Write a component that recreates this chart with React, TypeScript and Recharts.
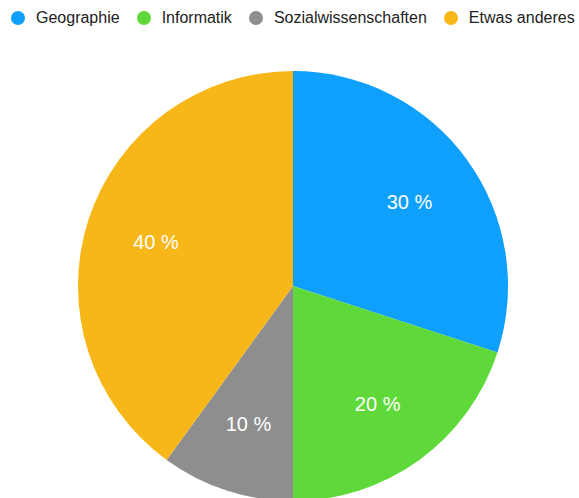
import { PieChart, Pie, Cell } from 'recharts';

const categories = ['Geographie', 'Informatik', 'Sozialwissenschaften', 'Etwas anderes'];
const shares = [30, 20, 10, 40];
const colors = ['#0fa0fd', '#5fd93a', '#8e8e8e', '#f7b718'];

const chartData = categories.map((name, i) => ({ name, value: shares[i] }));

const RADIAN = Math.PI / 180;
const FONT = 'Liberation Sans, Arial, sans-serif';

function SliceLabel(props: any) {
  const { cx, cy, midAngle, outerRadius, value } = props;
  const r = outerRadius * 0.67;
  const x = cx + r * Math.cos(-midAngle * RADIAN);
  const y = cy + r * Math.sin(-midAngle * RADIAN) + 1;
  return (
    <text x={x} y={y} fill="#fff" fontSize={20} fontFamily={FONT} textAnchor="middle" dominantBaseline="central">
      {value} %
    </text>
  );
}

function TopLegend() {
  return (
    <div style={{ position: 'absolute', top: 0, left: 0, width: 579, display: 'flex', alignItems: 'center', paddingLeft: 11, height: 36, fontFamily: FONT, fontSize: 16, color: '#222', whiteSpace: 'nowrap' }}>
      {categories.map((c, i) => (
        <div key={c} style={{ display: 'flex', alignItems: 'center', marginRight: 17 }}>
          <span style={{ width: 14, height: 14, borderRadius: 7, background: colors[i], marginRight: 11 }} />
          <span>{c}</span>
        </div>
      ))}
    </div>
  );
}

export default function App() {
  return (
    <div style={{ position: 'absolute', left: 0, top: 0, width: 579, height: 498, background: '#fff', overflow: 'hidden' }}>
      <PieChart width={579} height={498} margin={{ top: 0, right: 0, bottom: 0, left: 0 }}>
        <Pie
          data={chartData}
          dataKey="value"
          nameKey="name"
          cx={293}
          cy={286}
          outerRadius={215}
          startAngle={90}
          endAngle={-270}
          stroke="none"
          label={SliceLabel}
          labelLine={false}
          isAnimationActive={false}
        >
          {chartData.map((d, i) => (
            <Cell key={d.name} fill={colors[i]} />
          ))}
        </Pie>
      </PieChart>
      <TopLegend />
    </div>
  );
}
